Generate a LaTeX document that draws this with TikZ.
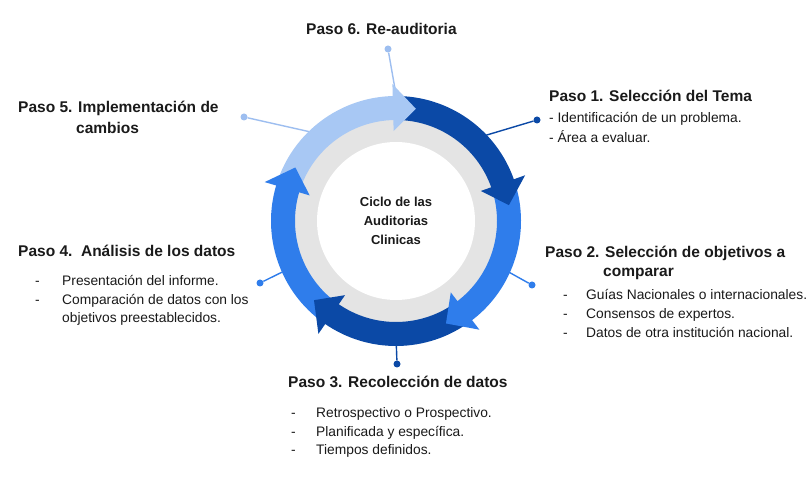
\documentclass[tikz,border=0pt]{standalone}
\usepackage{fontspec}
\setmainfont{Liberation Sans}
\definecolor{clight}{HTML}{A8C8F4}
\definecolor{clightln}{HTML}{9DBEF0}
\definecolor{cdark}{HTML}{0B49A6}
\definecolor{cmed}{HTML}{2F7DEB}
\definecolor{cgray}{HTML}{E4E4E4}
\definecolor{ctext}{HTML}{1A1A1A}
% #2 = tip of previous arrow, #3 = tip of this arrow
\newcommand\ringband[3]{\fill[#1] ({#2+10.5}:125) arc[start angle={#2+10.5}, end angle={#3+11}, radius=125] -- ({#3+11}:101) arc[start angle={#3+11}, end angle={#2+10.5}, radius=101] -- cycle;}
\newcommand\ringhead[2]{\fill[#1] ({#2+11.5}:137) -- (#2:114) -- ({#2+11.5}:90) -- cycle;}
\begin{document}
\begin{tikzpicture}[x=1pt,y=1pt,
  headtxt/.style={font=\bfseries\fontsize{15.5}{18}\selectfont, text=ctext, anchor=base west, inner sep=0},
  itemtxt/.style={font=\fontsize{13.8}{16}\selectfont, text=ctext, anchor=base west, inner sep=0},
  dot/.style={circle, inner sep=0, minimum size=7pt},
  link/.style={line width=1.4pt}]
\useasboundingbox (0,0) rectangle (811,479);
\fill[white] (0,0) rectangle (811,479);
\coordinate (c) at (396,258);
% dots and connectors
\node[dot, fill=clightln] (d6) at (388,430) {};
\node[dot, fill=clightln] (d5) at (244,362) {};
\node[dot, fill=cdark] (d1) at (537,359) {};
\node[dot, fill=cmed] (d2) at (532,194) {};
\node[dot, fill=cdark] (d3) at (397,115) {};
\node[dot, fill=cmed] (d4) at (260,196) {};
\begin{scope}[shift={(c)}]
\coordinate (e6) at (89:115);
\coordinate (e5) at (131:115);
\coordinate (e1) at (46:115);
\coordinate (e2) at (-24:115);
\coordinate (e3) at (-90:115);
\coordinate (e4) at (204:115);
\end{scope}
\draw[link, clightln] (d6) -- (e6);
\draw[link, clightln] (d5) -- (e5);
\draw[link, cdark] (d1) -- (e1);
\draw[link, cmed] (d2) -- (e2);
\draw[link, cdark] (d3) -- (e3);
\draw[link, cmed] (d4) -- (e4);
% ring
\fill[cgray] (c) circle (103);
\fill[white] (c) circle (79);
\begin{scope}[shift={(c)}]
\ringband{clight}{152}{80}
\ringband{cdark}{80}{8}
\ringband{cmed}{8}{-64}
\ringband{cdark}{-64}{-136}
\ringband{cmed}{-136}{-208}
\ringhead{clight}{80}
\ringhead{cdark}{8}
\ringhead{cmed}{-64}
\ringhead{cdark}{-136}
\ringhead{cmed}{-208}
\end{scope}
\node[font=\bfseries\fontsize{13}{19}\selectfont, text=ctext, align=center] (title) at (c) {Ciclo de las\\Auditorias\\Clinicas};
% Paso 6
\node[headtxt] (p6) at (306,444.5) {Paso 6. Re-auditoria};
% Paso 5
\node[headtxt] (p5) at (18,366) {Paso 5. Implementación de};
\node[headtxt] (p5b) at (76,345) {cambios};
% Paso 1
\node[headtxt] (p1) at (549,377) {Paso 1. Selección del Tema};
\node[itemtxt] (p1a) at (549,356) {- Identificación de un problema.};
\node[itemtxt] (p1b) at (549,336) {- Área a evaluar.};
% Paso 2
\node[headtxt] (p2) at (545,221) {Paso 2. Selección de objetivos a};
\node[headtxt] (p2b) at (603,202) {comparar};
\node[itemtxt] (p2d1) at (563,179) {-};
\node[itemtxt] (p2a) at (586,179) {Guías Nacionales o internacionales.};
\node[itemtxt] (p2d2) at (563,160) {-};
\node[itemtxt] (p2bb) at (586,160) {Consensos de expertos.};
\node[itemtxt] (p2d3) at (563,141) {-};
\node[itemtxt] (p2c) at (586,141) {Datos de otra institución nacional.};
% Paso 3
\node[headtxt] (p3) at (288,91) {Paso 3. Recolección de datos};
\node[itemtxt] (p3d1) at (291,61) {-};
\node[itemtxt] (p3a) at (316,61) {Retrospectivo o Prospectivo.};
\node[itemtxt] (p3d2) at (291,42) {-};
\node[itemtxt] (p3b) at (316,42) {Planificada y específica.};
\node[itemtxt] (p3d3) at (291,24) {-};
\node[itemtxt] (p3c) at (316,24) {Tiempos definidos.};
% Paso 4
\node[headtxt] (p4) at (18,222) {Paso 4.\ \ Análisis de los datos};
\node[itemtxt] (p4d1) at (35,193) {-};
\node[itemtxt] (p4a) at (62,193) {Presentación del informe.};
\node[itemtxt] (p4d2) at (35,174) {-};
\node[itemtxt] (p4b) at (62,174) {Comparación de datos con los};
\node[itemtxt] (p4c) at (62,156) {objetivos preestablecidos.};
\end{tikzpicture}
\end{document}
